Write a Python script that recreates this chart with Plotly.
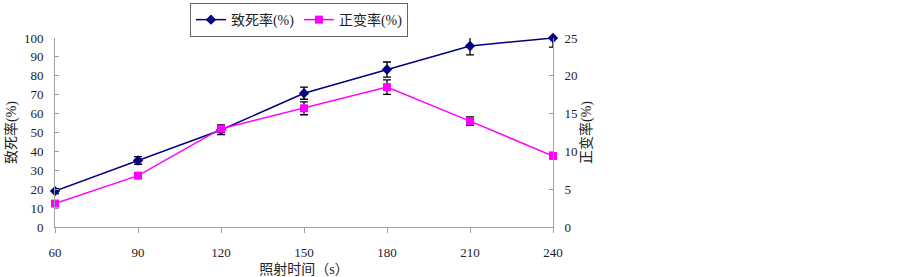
import plotly.graph_objects as go

times = [60, 90, 120, 150, 180, 210, 240]
lethality = [19.0, 35.2, 51.3, 70.8, 83.3, 95.8, 100.0]
lethality_err_plus = [1.3, 2.0, 2.4, 3.2, 4.0, 4.7, 0.0]
lethality_err_minus = [1.3, 2.0, 2.4, 3.2, 4.0, 4.7, 4.8]
mutation = [3.1, 6.8, 13.0, 15.7, 18.5, 14.0, 9.4]
mutation_err = [0.25, 0.35, 0.5, 0.85, 0.95, 0.55, 0.3]
x_ticks = ["60", "90", "120", "150", "180", "210", "240"]

FONT = "'Times New Roman', 'Liberation Serif', 'Noto Sans CJK SC', serif"
AX = "#a0a0a0"

fig = go.Figure()
fig.add_trace(go.Scatter(
    x=times, y=lethality, name="致死率(%)", mode="lines+markers",
    line=dict(color="#000080", width=1.5),
    marker=dict(symbol="diamond", size=8, color="#000080"),
    error_y=dict(type="data", array=lethality_err_plus, arrayminus=lethality_err_minus,
                 symmetric=False, color="black", thickness=1.3, width=4),
    cliponaxis=False,
))
fig.add_trace(go.Scatter(
    x=times, y=mutation, name="正变率(%)", mode="lines+markers", yaxis="y2",
    line=dict(color="#FF00FF", width=1.5),
    marker=dict(symbol="square", size=8, color="#FF00FF"),
    error_y=dict(type="data", array=mutation_err, color="black", thickness=1.3, width=4),
    cliponaxis=False,
))

fig.update_layout(
    width=903, height=277,
    margin=dict(l=55, r=350, t=38, b=50, autoexpand=False),
    paper_bgcolor="white", plot_bgcolor="white",
    font=dict(family=FONT, size=13, color="#222"),
    showlegend=True,
    legend=dict(orientation="h", x=0.271, y=1.185, xanchor="left", yanchor="top",
                bordercolor="#666", borderwidth=1, font=dict(size=14, family=FONT),
                bgcolor="white", itemwidth=30, tracegroupgap=0,
                entrywidth=63, entrywidthmode="pixels"),
    xaxis=dict(range=[60, 240], tickvals=times, ticktext=x_ticks,
               showgrid=False, zeroline=False, showline=True, linecolor=AX, linewidth=1,
               ticks="outside", ticklen=5, tickcolor=AX, ticklabelstandoff=8,
               title=dict(text="照射时间（s）", font=dict(size=14), standoff=8)),
    yaxis=dict(range=[0, 100], dtick=10, showgrid=False, zeroline=False,
               showline=True, linecolor=AX, linewidth=1,
               ticks="inside", ticklen=4, tickcolor=AX, ticklabelstandoff=8,
               title=dict(text="致死率(%)", font=dict(size=14), standoff=4)),
    yaxis2=dict(range=[0, 25], dtick=5, overlaying="y", side="right",
                showgrid=False, zeroline=False, showline=True, linecolor=AX, linewidth=1,
                ticks="inside", ticklen=4, tickcolor=AX, ticklabelstandoff=8,
                title=dict(text="正变率(%)", font=dict(size=14), standoff=0)),
)

fig.write_html("out.html", config={"displayModeBar": False},
               post_script="document.body.style.margin='0';")
